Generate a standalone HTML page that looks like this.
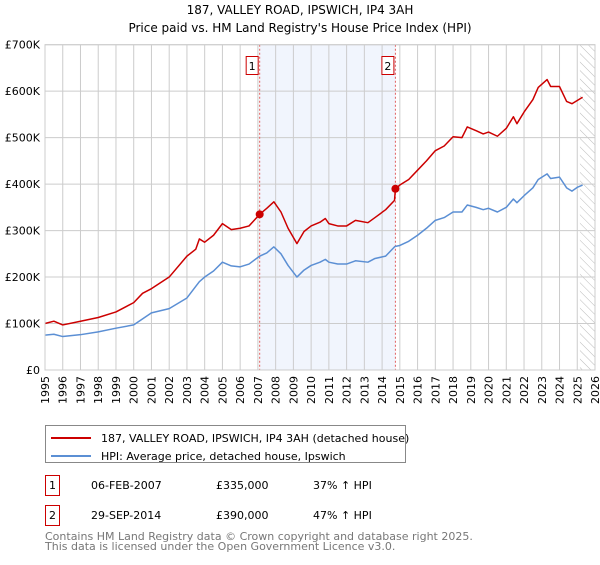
<!DOCTYPE html>
<html><head><meta charset="utf-8"><style>
body{margin:0;background:#fff;font-family:"Liberation Sans","DejaVu Sans",sans-serif;}
svg text{font-family:"DejaVu Sans","Liberation Sans",sans-serif;}
</style></head><body>
<svg id="c" width="600" height="560" xmlns="http://www.w3.org/2000/svg">
<text x="300" y="14" font-size="12" text-anchor="middle">187, VALLEY ROAD, IPSWICH, IP4 3AH</text>
<text x="300" y="32" font-size="12" text-anchor="middle">Price paid vs. HM Land Registry's House Price Index (HPI)</text>
<g id="plot"></g>
<g>
<rect x="45.5" y="425.5" width="360" height="37" fill="#fff" stroke="#888"/>
<line x1="51" y1="438" x2="91" y2="438" stroke="#cc0000" stroke-width="2"/>
<text x="101" y="442" font-size="11">187, VALLEY ROAD, IPSWICH, IP4 3AH (detached house)</text>
<line x1="51" y1="456" x2="91" y2="456" stroke="#5b8fd4" stroke-width="2"/>
<text x="101" y="460" font-size="11">HPI: Average price, detached house, Ipswich</text>
</g>
<g font-size="11">
<rect x="45.5" y="475.5" width="14" height="20" fill="#fff" stroke="#cc0000"/>
<text x="52.5" y="489" text-anchor="middle">1</text>
<text x="91" y="489">06-FEB-2007</text><text x="216" y="489">£335,000</text><text x="313" y="489">37% ↑ HPI</text>
<rect x="45.5" y="505.5" width="14" height="20" fill="#fff" stroke="#cc0000"/>
<text x="52.5" y="519" text-anchor="middle">2</text>
<text x="91" y="519">29-SEP-2014</text><text x="216" y="519">£390,000</text><text x="313" y="519">47% ↑ HPI</text>
</g>
<text x="45" y="540" font-size="11" fill="#777">Contains HM Land Registry data © Crown copyright and database right 2025.</text>
<text x="45" y="550" font-size="11" fill="#777">This data is licensed under the Open Government Licence v3.0.</text>
</svg>
<script>
const years=[1995,1995.5,1996,1997,1998,1999,2000,2000.5,2001,2002,2003,2003.5,2003.7,2004,2004.5,2005,2005.5,2006,2006.5,2007.1,2007.5,2007.9,2008.3,2008.7,2009.2,2009.6,2010,2010.5,2010.8,2011,2011.5,2012,2012.5,2013.2,2013.6,2014.2,2014.7,2014.75,2015,2015.5,2016,2016.5,2017,2017.5,2018,2018.5,2018.8,2019.3,2019.7,2020,2020.5,2021,2021.4,2021.6,2022,2022.5,2022.8,2023.3,2023.5,2024,2024.4,2024.7,2025,2025.3];
const propertyValues=[100,105,97,105,113,125,145,165,175,200,245,260,282,275,290,315,302,305,310,335,348,362,340,305,272,298,310,318,326,315,310,310,322,317,328,345,365,390,398,410,430,450,472,482,502,500,523,515,508,512,503,520,545,530,555,582,608,625,610,610,578,573,580,587];
const hpiValues=[75,77,72,76,82,90,97,110,123,132,155,180,190,200,213,232,224,222,228,245,252,265,250,225,200,215,225,232,238,232,228,228,235,232,240,245,265,266,268,277,290,305,322,328,340,340,355,350,345,348,340,350,368,360,375,392,410,422,412,415,392,385,393,398];
const sales=[{n:"1",t:2007.1,v:335},{n:"2",t:2014.75,v:390}];
const yTicks=[0,100,200,300,400,500,600,700];
const yTickLabels=["£0","£100K","£200K","£300K","£400K","£500K","£600K","£700K"];
const xTicks=[];for(let y=1995;y<=2026;y++)xTicks.push(y);
const X0=45,X1=595,Y0=370,Y1=44.7;
const xs=t=>X0+(t-1995)/(2026-1995)*(X1-X0);
const ys=v=>Y0-v/700*(Y0-Y1);
const NS="http://www.w3.org/2000/svg";
const g=document.getElementById('plot');
function mk(tag,a,p){const e=document.createElementNS(NS,tag);for(const k in a)e.setAttribute(k,a[k]);(p||g).appendChild(e);return e;}
const shade=mk('rect',{x:xs(sales[0].t),y:Y1,width:xs(sales[1].t)-xs(sales[0].t),height:Y0-Y1,fill:'#eef3fc',opacity:0.8});


const defs=mk('defs',{});
const pat=mk('pattern',{id:'h',width:6,height:6,patternUnits:'userSpaceOnUse',patternTransform:'rotate(-45)'},defs);
mk('line',{x1:0,y1:0,x2:0,y2:6,stroke:'#bbb','stroke-width':1},pat);
const hatch=mk('rect',{x:xs(2025.15),y:Y1,width:X1-xs(2025.15),height:Y0-Y1,fill:'url(#h)'});


xTicks.forEach(t=>{
 const l=mk('line',{x1:xs(t),y1:Y1,x2:xs(t),y2:Y0,stroke:'#ccc','stroke-width':1});
 
 
 const tx=mk('text',{x:0,y:0,'font-size':11,'text-anchor':'end',transform:`translate(${xs(t)+4},376) rotate(-90)`});
 tx.textContent=t;
 
 
});
yTicks.forEach((v,i)=>{
 const l=mk('line',{x1:X0,y1:ys(v),x2:X1,y2:ys(v),stroke:'#ccc','stroke-width':1});
 
 
 const tx=mk('text',{x:X0-5,y:ys(v)+4,'font-size':11,'text-anchor':'end'});
 tx.textContent=yTickLabels[i];
 
 
});
sales.forEach(s=>{
 const l=mk('line',{x1:xs(s.t),y1:Y1,x2:xs(s.t),y2:Y0,stroke:'#e06060','stroke-width':1,'stroke-dasharray':'2,2'});
 
 
 const r=mk('rect',{x:xs(s.t)-13.5,y:56.5,width:12,height:18,fill:'#fff',stroke:'#cc0000'});
 
 
 const tx=mk('text',{x:xs(s.t)-7.5,y:70,'font-size':11,'text-anchor':'middle'});
 tx.textContent=s.n;
 
 
});
function line(vals,col,name){
 const p=mk('polyline',{points:years.map((t,i)=>xs(t)+','+ys(vals[i])).join(' '),fill:'none',stroke:col,'stroke-width':1.5,'stroke-linejoin':'round'});
 
 
}
line(hpiValues,'#5b8fd4','hpi-line');
line(propertyValues,'#cc0000','property-line');
sales.forEach(s=>{
 const c=mk('circle',{cx:xs(s.t),cy:ys(s.v),r:4,fill:'#cc0000'});
 
 
});
const ax=mk('rect',{x:X0,y:Y1,width:X1-X0,height:Y0-Y1,fill:'none',stroke:'#ccc'});


</script>
</body></html>
